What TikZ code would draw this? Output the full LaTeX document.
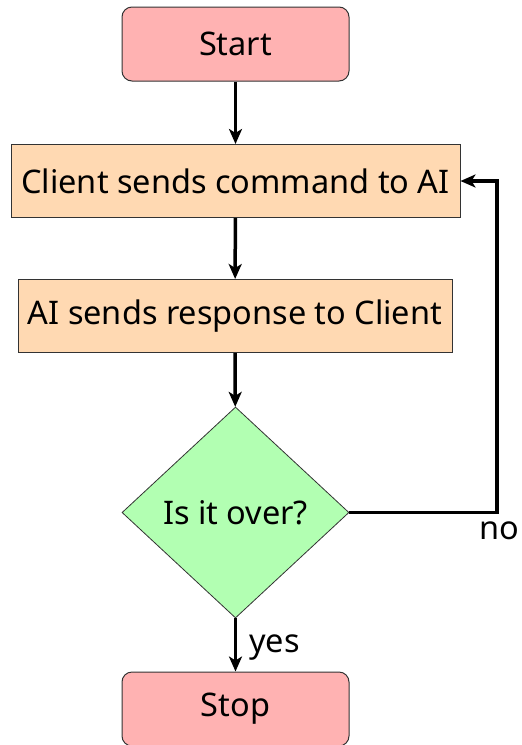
\documentclass[tikz,border=0pt]{standalone}
\usepackage{fontspec}
\setmainfont{Noto Sans}
\usetikzlibrary{shapes.geometric,arrows.meta}
\begin{document}
\begin{tikzpicture}[x=1pt,y=-1pt,
  every node/.style={font=\fontsize{32.5}{38}\selectfont},
  term/.style={draw=black!80,line width=1pt,fill={rgb,255:red,255;green,178;blue,178},rounded corners=10pt,minimum width=227pt,minimum height=74pt,inner sep=0pt},
  proc/.style={draw=black!80,line width=1pt,fill={rgb,255:red,255;green,217;blue,178},minimum height=73pt,inner sep=0pt},
  decide/.style={draw=black!80,line width=0.8pt,fill={rgb,255:red,178;green,255;blue,178},diamond,aspect=1.075,minimum width=227pt,minimum height=211pt,inner sep=0pt},
  conn/.style={line width=3.5pt,-{Stealth[length=15pt,width=13pt,inset=4pt]}},
  lbl/.style={font=\fontsize{32.5}{38}\selectfont,inner sep=0pt}]
\useasboundingbox (0,0) rectangle (522,745);
\node[term] (start) at (235.5,44) {Start};
\node[proc,minimum width=449pt] (client) at (235.5,181) {Client sends command to AI};
\node[proc,minimum width=434pt] (ai) at (235,316) {AI sends response to Client};
\node[decide] (over) at (235.5,512.5) {Is it over?};
\node[term] (stop) at (235.5,709) {Stop};
\coordinate (c1) at (497,512.5);
\coordinate (c2) at (497,181);
\draw[conn] (start) -- (client);
\draw[conn] (client) -- (ai);
\draw[conn] (ai) -- (over);
\draw[conn] (over) -- node[lbl,anchor=west,xshift=12pt,yshift=-3pt] {yes} (stop);
\draw[conn] (over.east) -- (c1) -- (c2) -- (client.east);
\node[lbl] (no) at (499,531) {no};
\end{tikzpicture}
\end{document}
